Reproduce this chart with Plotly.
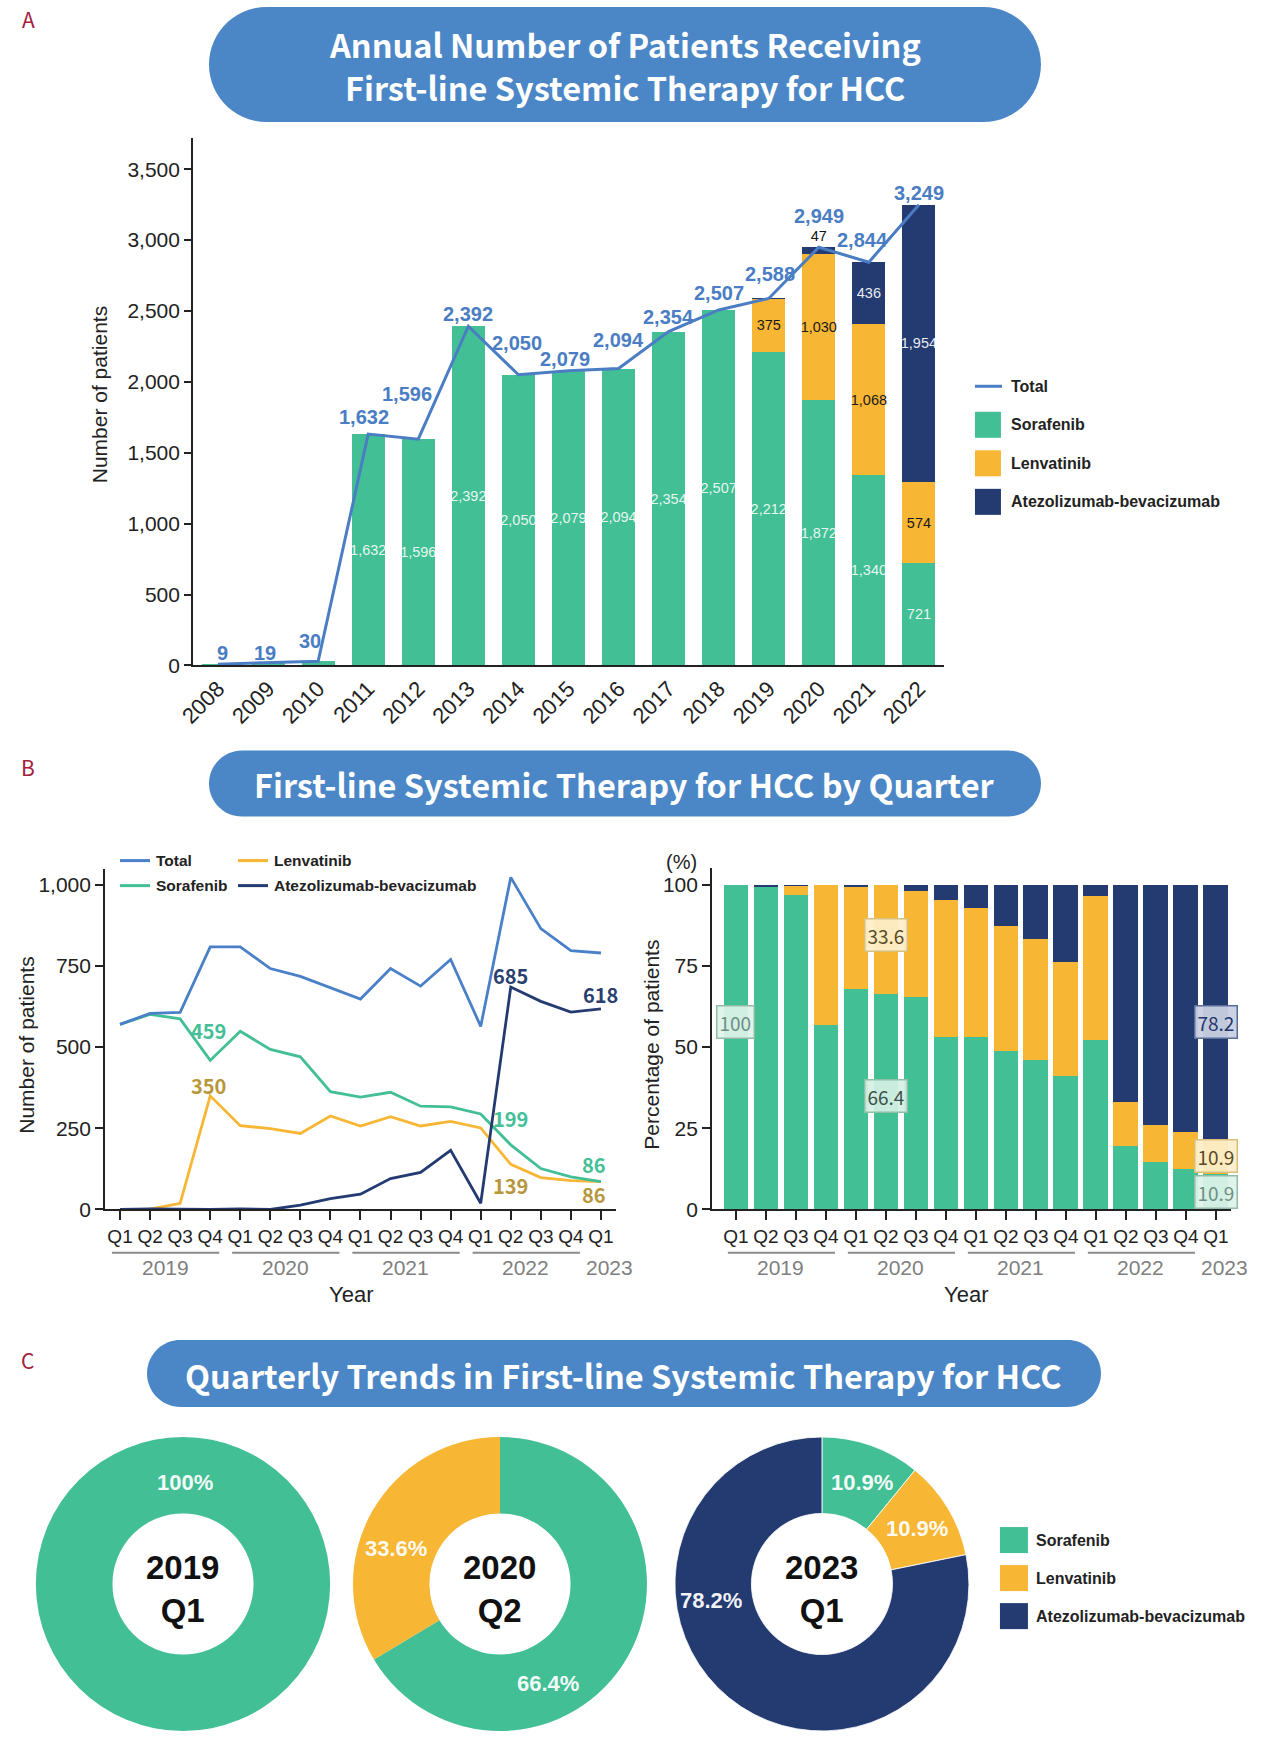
import numpy as np
import plotly.graph_objects as go

W, H = 1275, 1742
# The photographed page comes back slightly shifted/scaled; place elements so they land where intended
SX, OX = 0.9875, 14.0
SY, OY = 0.993, 1.0


def X(px):
    return ((px - OX) / SX) / W


def Y(py):
    return 1 - ((py - OY) / SY) / H


def clamp(v):
    return min(1.0, max(0.0, v))


# ---------------- Data ----------------
years = [str(y) for y in range(2008, 2023)]
sorafenib_annual = [9, 19, 30, 1632, 1596, 2392, 2050, 2079, 2094, 2354, 2507, 2212, 1872, 1340, 721]
lenvatinib_annual = [0, 0, 0, 0, 0, 0, 0, 0, 0, 0, 0, 375, 1030, 1068, 574]
atezo_annual = [0, 0, 0, 0, 0, 0, 0, 0, 0, 0, 0, 1, 47, 436, 1954]
total_annual = [9, 19, 30, 1632, 1596, 2392, 2050, 2079, 2094, 2354, 2507, 2588, 2949, 2844, 3249]
annual_ticks = [0, 500, 1000, 1500, 2000, 2500, 3000, 3500]

quarters = ["2019 Q1", "2019 Q2", "2019 Q3", "2019 Q4",
            "2020 Q1", "2020 Q2", "2020 Q3", "2020 Q4",
            "2021 Q1", "2021 Q2", "2021 Q3", "2021 Q4",
            "2022 Q1", "2022 Q2", "2022 Q3", "2022 Q4",
            "2023 Q1"]
quarter_labels = ["Q1", "Q2", "Q3", "Q4"] * 4 + ["Q1"]
quarter_years = ["2019", "2020", "2021", "2022", "2023"]
total_q = [570, 604, 607, 809, 809, 742, 718, 684, 648, 742, 688, 770, 564, 1023, 865, 797, 790]
sorafenib_q = [570, 601, 587, 459, 549, 493, 470, 363, 346, 361, 318, 316, 294, 199, 126, 100, 86]
lenvatinib_q = [0, 1, 19, 350, 258, 249, 234, 288, 257, 286, 257, 271, 251, 139, 98, 89, 86]
atezo_q = [0, 2, 1, 0, 2, 0, 13, 33, 47, 95, 114, 182, 19, 685, 641, 608, 618]
count_ticks = [0, 250, 500, 750, 1000]
pct_ticks = [0, 25, 50, 75, 100]

drug_names = ["Sorafenib", "Lenvatinib", "Atezolizumab-bevacizumab"]
donut_titles = ["2019<br>Q1", "2020<br>Q2", "2023<br>Q1"]
donut_2019q1 = [100, 0, 0]
donut_2020q2 = [66.4, 33.6, 0]
donut_2023q1 = [10.9, 10.9, 78.2]

# ---------------- Styles ----------------
GREEN = "#43bf95"
YELLOW = "#f7b634"
NAVY = "#243b71"
BLUE = "#4a7dc3"
PILL = "#4b87c6"
LETTER = "#a3213d"
AX = "Liberation Sans, Arial, sans-serif"
TF = "Noto Sans CJK KR, Noto Sans, sans-serif"
TXT = "#222222"

fig = go.Figure()
annotations = []
shapes = []


def ann(text, px, py, size=20, color=TXT, family=AX, bold=False, xanchor="center", yanchor="middle", **kw):
    t = f"<b>{text}</b>" if bold else text
    d = dict(text=t, x=X(px), y=Y(py), xref="paper", yref="paper", showarrow=False,
             xanchor=xanchor, yanchor=yanchor, font=dict(size=size, color=color, family=family))
    d.update(kw)
    annotations.append(d)


def pill(x0, y0, x1, y1, n=30):
    r = (y1 - y0) / 2
    cy = (y0 + y1) / 2
    pts = []
    for k in range(n + 1):
        a = -np.pi / 2 + np.pi * k / n
        pts.append((x1 - r + r * np.cos(a), cy + r * np.sin(a)))
    for k in range(n + 1):
        a = np.pi / 2 + np.pi * k / n
        pts.append((x0 + r + r * np.cos(a), cy + r * np.sin(a)))
    path = "M " + " L ".join(f"{X(px):.5f},{Y(py):.5f}" for px, py in pts) + " Z"
    shapes.append(dict(type="path", path=path, xref="paper", yref="paper",
                       fillcolor=PILL, line=dict(width=0), layer="below"))


# ---------------- Panel A ----------------
sor_text = [f"{v:,}" if i >= 3 else "" for i, v in enumerate(sorafenib_annual)]
len_text = [f"{v:,}" if v > 0 else "" for v in lenvatinib_annual]
atz_text = [f"{v:,}" if v > 1 else "" for v in atezo_annual]
atz_pos = ["outside" if 1 < v < 100 else "inside" for v in atezo_annual]

fig.add_trace(go.Bar(x=years, y=sorafenib_annual, marker=dict(color=GREEN, line=dict(width=0)), width=0.66,
                     text=sor_text, textposition="inside", insidetextanchor="middle", textangle=0,
                     constraintext="none", textfont=dict(size=14.5, family=AX, color="rgba(255,255,255,0.88)"),
                     xaxis="x", yaxis="y", showlegend=False, hoverinfo="skip"))
fig.add_trace(go.Bar(x=years, y=lenvatinib_annual, marker=dict(color=YELLOW, line=dict(width=0)), width=0.66,
                     text=len_text, textposition="inside", insidetextanchor="middle", textangle=0,
                     constraintext="none", textfont=dict(size=14.5, family=AX, color="#1a1a1a"),
                     xaxis="x", yaxis="y", showlegend=False, hoverinfo="skip"))
fig.add_trace(go.Bar(x=years, y=atezo_annual, marker=dict(color=NAVY, line=dict(width=0)), width=0.66,
                     text=atz_text, textposition=atz_pos, insidetextanchor="middle", textangle=0,
                     constraintext="none", textfont=dict(size=14.5, family=AX),
                     insidetextfont=dict(size=14.5, family=AX, color="rgba(255,255,255,0.92)"),
                     outsidetextfont=dict(size=14.5, family=AX, color="#111111"),
                     cliponaxis=False, xaxis="x", yaxis="y", showlegend=False, hoverinfo="skip"))
fig.add_trace(go.Scatter(x=years, y=total_annual, mode="lines", line=dict(color=BLUE, width=3),
                         xaxis="x", yaxis="y", showlegend=False, hoverinfo="skip"))

total_label_dx = [4, -3, -8, -4, -11, 0, -1, -3, 0, 0, 0, 1, 0, -6, 0]
total_label_dy = [11, 10, 20, 17, 45, 12, 32, 12, 29, 15, 17, 24, 31, 22, 12]
for i, v in enumerate(total_annual):
    annotations.append(dict(text=f"<b>{v:,}</b>", x=i, y=v, xref="x", yref="y", showarrow=False,
                            xanchor="center", yanchor="middle", xshift=total_label_dx[i],
                            yshift=total_label_dy[i], font=dict(size=20, color=BLUE, family=AX)))

# Panel A legend (manual)
shapes.append(dict(type="line", xref="paper", yref="paper", x0=X(973), x1=X(1000), y0=Y(387), y1=Y(387),
                   line=dict(color=BLUE, width=3)))
ann("Total", 1007, 387, size=16, bold=True, xanchor="left")
for k, (nm, col) in enumerate(zip(drug_names, [GREEN, YELLOW, NAVY])):
    yc = 425.5 + k * 38.5
    shapes.append(dict(type="rect", xref="paper", yref="paper", x0=X(973), x1=X(999),
                       y0=Y(yc + 13), y1=Y(yc - 13), fillcolor=col, line=dict(width=0)))
    ann(nm, 1007, yc, size=16, bold=True, xanchor="left")

ann("Number of patients", 97, 395, size=21, textangle=-90)

# ---------------- Panel B left ----------------
for name, vals, col in [("Lenvatinib", lenvatinib_q, YELLOW), ("Sorafenib", sorafenib_q, GREEN),
                        ("Atezolizumab-bevacizumab", atezo_q, NAVY), ("Total", total_q, "#4a80c8")]:
    fig.add_trace(go.Scatter(x=quarters, y=vals, mode="lines", line=dict(color=col, width=2.8),
                             xaxis="x2", yaxis="y2", showlegend=False, hoverinfo="skip", cliponaxis=False))

LGOLD = "#b8963c"
LGREEN = "#45bf97"
LNAVY = "#2a3f70"
b_labels = [("459", 2.93, 551, LGREEN), ("350", 2.93, 383, LGOLD), ("685", 13.0, 722, LNAVY),
            ("618", 15.97, 661, LNAVY), ("199", 13.0, 279, LGREEN), ("139", 13.0, 75, LGOLD),
            ("86", 15.77, 137, LGREEN), ("86", 15.77, 47, LGOLD)]
for t, xi, yv, col in b_labels:
    annotations.append(dict(text=f"<b>{t}</b>", x=xi, y=yv, xref="x2", yref="y2", showarrow=False,
                            font=dict(size=20, color=col, family=TF)))

# legend B (manual)
for (nm, col, lx, ly) in [("Total", "#4a80c8", 118, 861), ("Lenvatinib", YELLOW, 236, 861),
                          ("Sorafenib", GREEN, 118, 886), ("Atezolizumab-bevacizumab", NAVY, 236, 886)]:
    shapes.append(dict(type="line", xref="paper", yref="paper", x0=X(lx), x1=X(lx + 30), y0=Y(ly), y1=Y(ly),
                       line=dict(color=col, width=3)))
    ann(nm, lx + 34, ly, size=15.5, bold=True, xanchor="left")

ann("Number of patients", 25, 1045, size=21, textangle=-90)
ann("Year", 349, 1295, size=22)

# ---------------- Panel B right ----------------
comp = np.array([sorafenib_q, lenvatinib_q, atezo_q], dtype=float)
pct = comp / comp.sum(axis=0) * 100
for vals, col in zip(pct, [GREEN, YELLOW, NAVY]):
    fig.add_trace(go.Bar(x=quarters, y=vals, marker=dict(color=col, line=dict(width=0)), width=0.83,
                         xaxis="x3", yaxis="y3", showlegend=False, hoverinfo="skip"))

box_styles = {
    "g": dict(bgcolor="rgba(222,243,234,0.92)", bordercolor="#93bba8", color="#6f8f83"),
    "gd": dict(bgcolor="rgba(213,240,228,0.92)", bordercolor="#8ec0a8", color="#3c5248"),
    "y": dict(bgcolor="rgba(253,238,200,0.95)", bordercolor="#d8bf7c", color="#5b4a25"),
    "n": dict(bgcolor="rgba(201,208,226,0.95)", bordercolor="#5a6d9a", color="#23376b"),
}
pct_boxes = [(f"{donut_2019q1[0]:g}", 0, 57.6, "g"), (f"{donut_2020q2[1]:g}", 5, 84.5, "y"),
             (f"{donut_2020q2[0]:g}", 5, 35.0, "gd"), (f"{donut_2023q1[2]:g}", 16, 57.8, "n"),
             (f"{donut_2023q1[1]:g}", 16, 16.5, "y"), (f"{donut_2023q1[0]:g}", 16, 5.5, "g")]
for t, xi, yv, st in pct_boxes:
    s = box_styles[st]
    annotations.append(dict(text=t, x=xi, y=yv, xref="x3", yref="y3", showarrow=False,
                            bgcolor=s["bgcolor"], bordercolor=s["bordercolor"], borderwidth=1.5, borderpad=2,
                            font=dict(size=19, color=s["color"], family=TF)))

ann("(%)", 680, 862, size=20)
ann("Percentage of patients", 650, 1045, size=21, textangle=-90)
ann("Year", 964, 1295, size=22)

# year group lines + labels for both B charts
for axis_x in ["x2", "x3"]:
    for i, yr in enumerate(quarter_years):
        if i < 4:
            shapes.append(dict(type="line", xref=axis_x, yref="paper", x0=4 * i - 0.27, x1=4 * i + 3.3,
                               y0=Y(1253), y1=Y(1253), line=dict(color="#8a8a8a", width=2)))
            xc = 4 * i + 1.5
        else:
            xc = 16.3
        annotations.append(dict(text=yr, x=xc, y=Y(1268), xref=axis_x, yref="paper", showarrow=False,
                                xanchor="center", yanchor="middle",
                                font=dict(size=21, color="#808080", family=AX)))

# ---------------- Panel C ----------------
donuts = [donut_2019q1, donut_2020q2, donut_2023q1]
centers = [181, 498, 820]
CY = 1584
R = 147
for vals, cx, title in zip(donuts, centers, donut_titles):
    sep = 0.8 if min(vals) > 0 else 0
    fig.add_trace(go.Pie(values=vals, labels=drug_names, sort=False, direction="clockwise", rotation=0,
                         hole=0.48, marker=dict(colors=[GREEN, YELLOW, NAVY], line=dict(color="white", width=sep)),
                         textinfo="none", hoverinfo="skip", showlegend=False,
                         domain=dict(x=[clamp(X(cx - R)), clamp(X(cx + R))],
                                     y=[clamp(Y(CY + R)), clamp(Y(CY - R))])))
    ann(title, cx, CY + 5, size=33, bold=True, color="#111111")

pie_labels = [(f"{donut_2019q1[0]:g}%", 183, 1482), (f"{donut_2020q2[1]:g}%", 394, 1548),
              (f"{donut_2020q2[0]:g}%", 546, 1683), (f"{donut_2023q1[0]:g}%", 860, 1482),
              (f"{donut_2023q1[1]:g}%", 915, 1528), (f"{donut_2023q1[2]:g}%", 709, 1600)]
for t, px, py in pie_labels:
    ann(t, px, py, size=22, bold=True, color="rgba(255,255,255,0.95)")

for k, (nm, col) in enumerate(zip(drug_names, [GREEN, YELLOW, NAVY])):
    yc = 1540 + k * 38
    shapes.append(dict(type="rect", xref="paper", yref="paper", x0=X(998), x1=X(1026),
                       y0=Y(yc + 13), y1=Y(yc - 13), fillcolor=col, line=dict(width=0)))
    ann(nm, 1032, yc, size=16, bold=True, xanchor="left")

# ---------------- Titles / pills / letters ----------------
pill(207, 8, 1039, 123)
ann("Annual Number of Patients Receiving", 623, 44, size=32.5, bold=True, color="white", family=TF)
ann("First-line Systemic Therapy for HCC", 623, 87, size=32.5, bold=True, color="white", family=TF)
pill(207, 751, 1039, 817)
ann("First-line Systemic Therapy for HCC by Quarter", 623, 784, size=32.5, bold=True, color="white", family=TF)
pill(145, 1340, 1099, 1407)
ann("Quarterly Trends in First-line Systemic Therapy for HCC", 622, 1375, size=32.5, bold=True,
    color="white", family=TF)
ann("A", 27, 20, size=21, color=LETTER, family=TF)
ann("B", 26, 767, size=21, color=LETTER, family=TF)
ann("C", 26, 1360, size=21, color=LETTER, family=TF)

# ---------------- Axes ----------------
axis_common = dict(showline=True, linecolor="#222222", linewidth=1.6, showgrid=False, zeroline=False,
                   tickcolor="#222222", tickwidth=1.5)
tf21 = dict(size=21, family=AX, color=TXT)
tfx = dict(size=22, family=AX, color=TXT)
tfq = dict(size=19, family=AX, color=TXT)

fig.update_layout(
    width=W, height=H, margin=dict(l=0, r=0, t=0, b=0, pad=0), paper_bgcolor="white", plot_bgcolor="white",
    barmode="stack", showlegend=False, font=dict(family=AX, color=TXT),
    xaxis=dict(domain=[X(191), X(942)], type="category", range=[-0.5, 14.5], tickangle=-45, ticks="",
               anchor="y", tickfont=tfx, **axis_common),
    yaxis=dict(domain=[Y(666), Y(139)], range=[0, 3719], tickvals=annual_ticks, tickformat=",",
               ticks="outside", ticklen=7, anchor="x", tickfont=tf21, **axis_common),
    xaxis2=dict(domain=[X(103), X(614)], type="category", categoryorder="array", categoryarray=quarters,
                range=[-0.5, 16.5], tickvals=quarters, ticktext=quarter_labels, tickangle=0,
                ticks="outside", ticklen=9, anchor="y2", tickfont=tfq, **axis_common),
    yaxis2=dict(domain=[Y(1209.6), Y(869)], range=[0, 1050], tickvals=count_ticks, tickformat=",",
                ticks="outside", ticklen=8, anchor="x2", tickfont=tf21, **axis_common),
    xaxis3=dict(domain=[X(710), X(1229)], type="category", categoryorder="array", categoryarray=quarters,
                range=[-0.8, 16.5], tickvals=quarters, ticktext=quarter_labels, tickangle=0,
                ticks="outside", ticklen=9, anchor="y3", tickfont=tfq, **axis_common),
    yaxis3=dict(domain=[Y(1209.6), Y(868)], range=[0, 105.3], tickvals=pct_ticks,
                ticks="outside", ticklen=8, anchor="x3", tickfont=tf21, **axis_common),
    annotations=annotations,
    shapes=shapes,
)

fig.write_html("out.html", config={"displayModeBar": False},
               post_script="document.body.style.margin='0';document.body.style.overflow='hidden';")
